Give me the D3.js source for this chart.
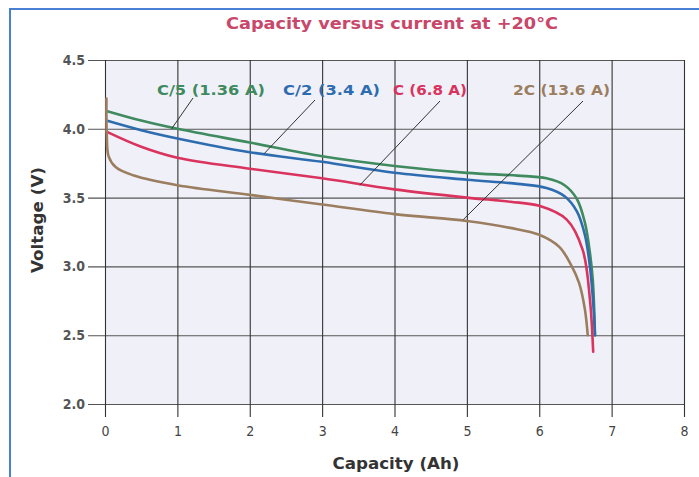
<!DOCTYPE html>
<html>
<head>
<meta charset="utf-8">
<script src="https://cdn.jsdelivr.net/npm/d3@7"></script>
<style>
  body { margin: 0; background: #fff; }
  svg { display: block; }
  .tick text { font-family: "DejaVu Sans Condensed", "DejaVu Sans", sans-serif; fill: #444; }
</style>
</head>
<body>
<svg id="chart" width="699" height="477"></svg>
<script>
// data
var xTicks = [0, 1, 2, 3, 4, 5, 6, 7, 8];
var yTicks = [2.0, 2.5, 3.0, 3.5, 4.0, 4.5];

var seriesNames = ['C/5 (1.36 A)', 'C/2 (3.4 A)', 'C (6.8 A)', '2C (13.6 A)'];
var seriesColors = ['#3f8a5f', '#2e6cb0', '#d9335e', '#9b7d5f'];

var capC5 = [0.02, 0.5, 1, 2, 3, 4, 5, 5.7, 6.1, 6.35, 6.52, 6.63, 6.7, 6.74, 6.77];
var voltC5 = [4.13, 4.06, 4.00, 3.90, 3.80, 3.73, 3.68, 3.66, 3.64, 3.59, 3.49, 3.32, 3.10, 2.90, 2.50];

var capC2 = [0.02, 0.5, 1, 2, 3, 4, 5, 5.7, 6.1, 6.35, 6.52, 6.63, 6.7, 6.75, 6.77];
var voltC2 = [4.06, 3.99, 3.93, 3.83, 3.76, 3.68, 3.63, 3.60, 3.57, 3.51, 3.40, 3.23, 3.00, 2.70, 2.50];

var capC = [0.02, 0.5, 1, 2, 3, 4, 5, 5.6, 6, 6.38, 6.6, 6.7, 6.745];
var voltC = [3.98, 3.87, 3.79, 3.71, 3.64, 3.56, 3.50, 3.47, 3.44, 3.34, 3.12, 2.76, 2.38];

var cap2C = [0.02, 0.025, 0.05, 0.15, 0.4, 1, 2, 3, 4, 5, 5.6, 6, 6.28, 6.45, 6.55, 6.63, 6.67];
var volt2C = [4.22, 3.95, 3.80, 3.72, 3.66, 3.59, 3.52, 3.45, 3.38, 3.33, 3.28, 3.23, 3.14, 3.00, 2.88, 2.69, 2.50];

// label leader lines: [capacity, voltage] of the end on the curve
var leaderEnds = [[0.92, 4.0], [2.2, 3.82], [3.52, 3.59], [4.95, 3.34]];

var svg = d3.select('#chart');

var x = d3.scaleLinear().domain([0, 8]).range([105, 684]);
var y = d3.scaleLinear().domain([2.0, 4.5]).range([404, 60]);

// page frame
svg.append('path')
    .attr('d', 'M10,477V9H699')
    .style('fill', 'none')
    .style('stroke', '#4a7fd6')
    .style('stroke-width', 2);

// plot background
svg.append('rect')
    .attr('x', x(0)).attr('y', y(4.5))
    .attr('width', x(8) - x(0)).attr('height', y(2.0) - y(4.5))
    .style('fill', '#f0f1f8');

// y grid + labels
var yAxis = svg.append('g')
    .attr('transform', 'translate(' + [x(8), 0] + ')')
    .call(d3.axisLeft(y).tickValues(yTicks).tickFormat(d3.format('.1f'))
        .tickSize(x(8) - 88).tickPadding(3));
yAxis.select('.domain').remove();
yAxis.selectAll('.tick line').style('stroke', '#555').style('stroke-width', 1.1);
yAxis.selectAll('.tick text').style('font-size', '14px').style('font-weight', 'bold').style('fill', '#555');

// x grid + labels
var xAxis = svg.append('g')
    .attr('transform', 'translate(' + [0, y(4.5)] + ')')
    .call(d3.axisBottom(x).tickValues(xTicks).tickFormat(d3.format('d'))
        .tickSize(417 - y(4.5)).tickPadding(9));
xAxis.select('.domain').remove();
xAxis.selectAll('.tick line').style('stroke', '#333').style('stroke-width', 1.1);
xAxis.selectAll('.tick text').style('font-size', '14px').style('fill', '#444');

// curves
var seriesData = [
    d3.zip(capC5, voltC5),
    d3.zip(capC2, voltC2),
    d3.zip(capC, voltC),
    d3.zip(cap2C, volt2C)
];

var line = d3.line()
    .x(function (d) { return x(d[0]); })
    .y(function (d) { return y(d[1]); })
    .curve(d3.curveCatmullRom.alpha(0.5));

svg.selectAll('.curve')
    .data(seriesData)
    .enter()
    .append('path')
    .attr('class', 'curve')
    .attr('d', line)
    .style('fill', 'none')
    .style('stroke', function (d, i) { return seriesColors[i]; })
    .style('stroke-width', 2.6)
    .style('stroke-linecap', 'round');

// labels
var labelX = [157, 283, 393, 513];
var labelW = [108, 97, 74, 97];
var leaderStart = [[193, 98], [315, 100], [440, 101], [583, 101]];

seriesNames.forEach(function (name, i) {
    svg.append('line')
        .attr('x1', leaderStart[i][0]).attr('y1', leaderStart[i][1])
        .attr('x2', x(leaderEnds[i][0])).attr('y2', y(leaderEnds[i][1]))
        .style('stroke', '#333')
        .style('stroke-width', 1);

    svg.append('text')
        .attr('x', labelX[i])
        .attr('y', 95)
        .attr('textLength', labelW[i])
        .attr('lengthAdjust', 'spacingAndGlyphs')
        .text(name)
        .style('font-family', '"DejaVu Sans Condensed", "DejaVu Sans", sans-serif')
        .style('font-size', '14px')
        .style('font-weight', 'bold')
        .style('fill', seriesColors[i]);
});

// title
svg.append('text')
    .attr('x', 226)
    .attr('y', 29)
    .attr('textLength', 332)
    .attr('lengthAdjust', 'spacingAndGlyphs')
    .text('Capacity versus current at +20°C')
    .style('font-family', '"DejaVu Sans Condensed", "DejaVu Sans", sans-serif')
    .style('font-size', '16px')
    .style('font-weight', 'bold')
    .style('fill', '#c8476a');

// axis titles
svg.append('text')
    .attr('x', 396)
    .attr('y', 469)
    .attr('textLength', 127)
    .attr('lengthAdjust', 'spacingAndGlyphs')
    .style('text-anchor', 'middle')
    .text('Capacity (Ah)')
    .style('font-family', '"DejaVu Sans Condensed", "DejaVu Sans", sans-serif')
    .style('font-size', '15px')
    .style('font-weight', 'bold')
    .style('fill', '#333');

svg.append('text')
    .attr('transform', 'translate(' + [43, 220] + ') rotate(-90)')
    .attr('textLength', 106)
    .attr('lengthAdjust', 'spacingAndGlyphs')
    .style('text-anchor', 'middle')
    .text('Voltage (V)')
    .style('font-family', '"DejaVu Sans Condensed", "DejaVu Sans", sans-serif')
    .style('font-size', '15px')
    .style('font-weight', 'bold')
    .style('fill', '#333');
</script>
</body>
</html>
